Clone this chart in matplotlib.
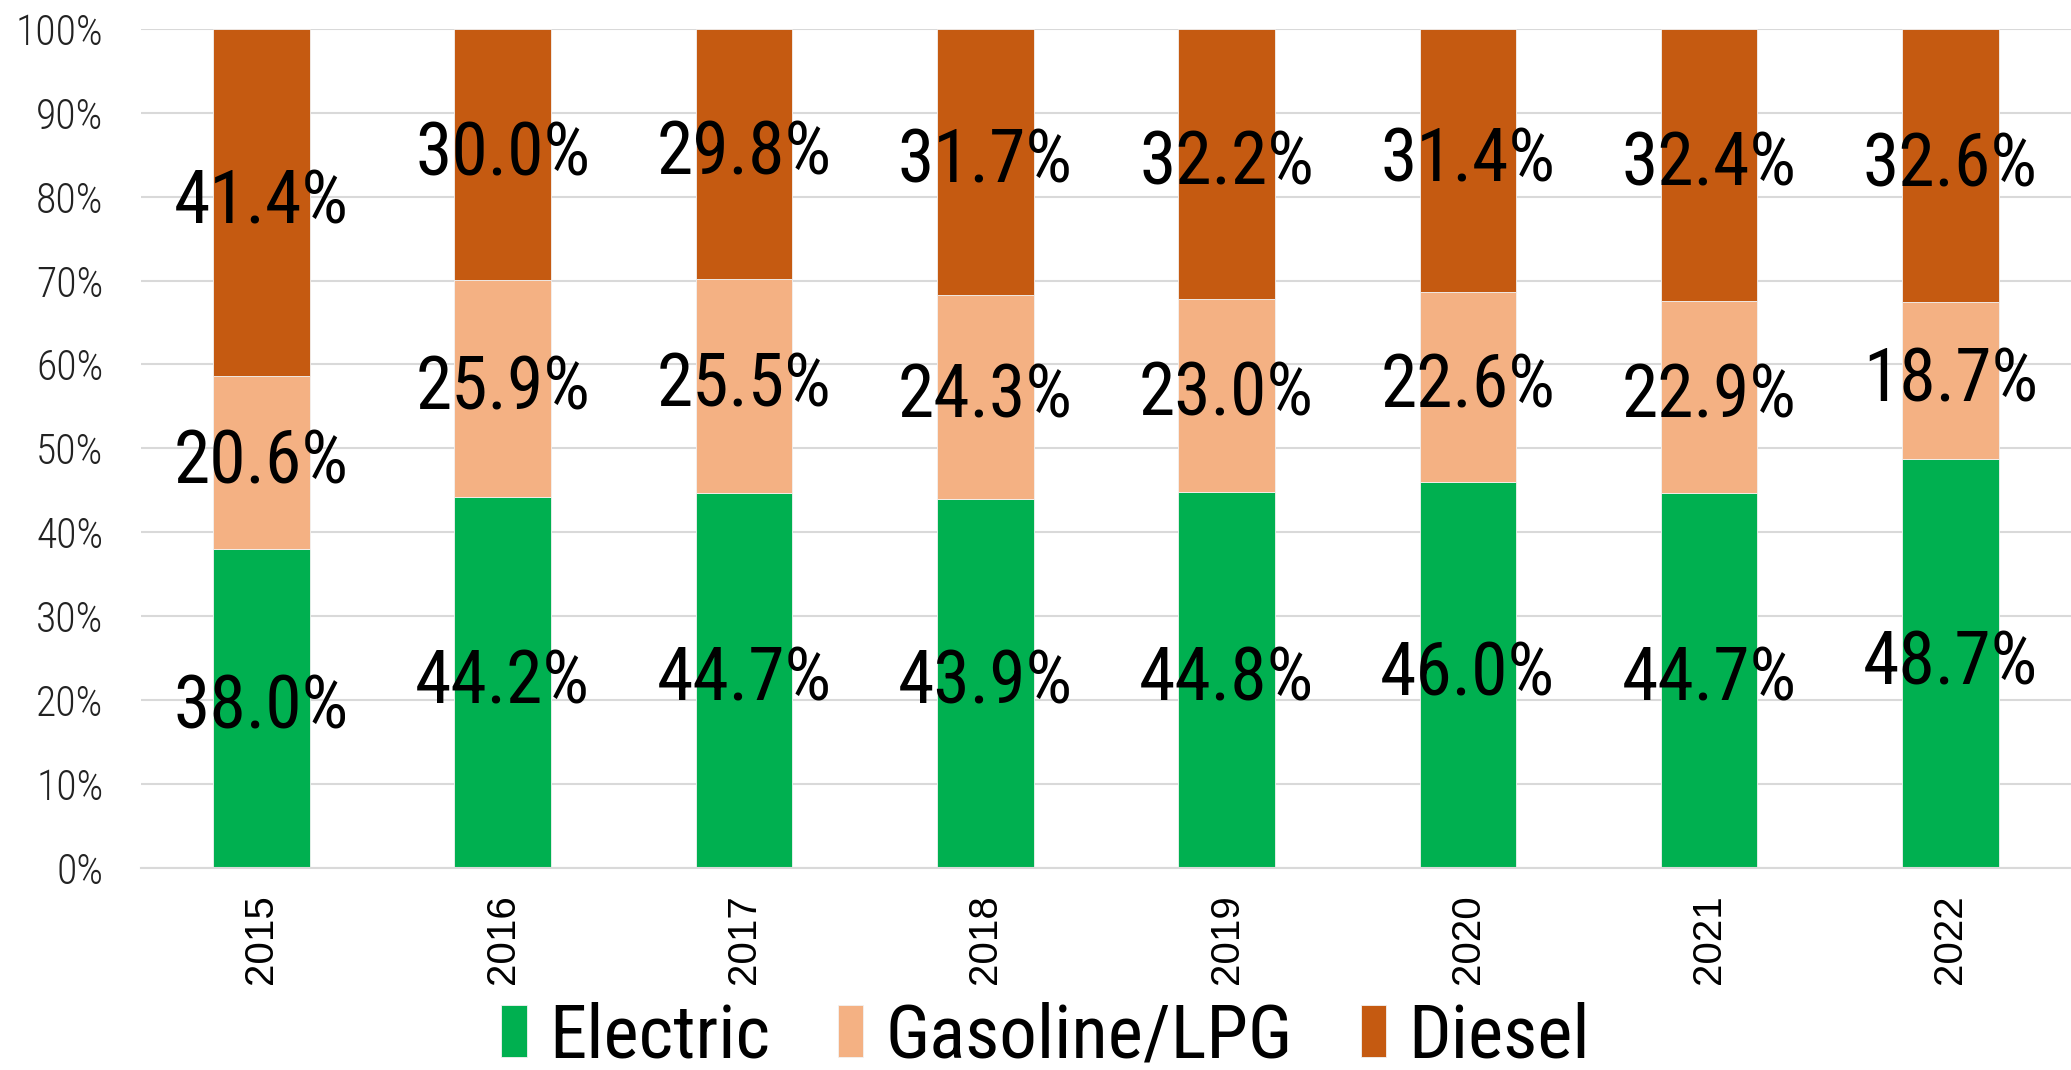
import matplotlib
matplotlib.use("Agg")
import matplotlib.pyplot as plt
import numpy as np

# chart data
years = ["2015", "2016", "2017", "2018", "2019", "2020", "2021", "2022"]
electric = [38.0, 44.2, 44.7, 43.9, 44.8, 46.0, 44.7, 48.7]
gasoline = [20.6, 25.9, 25.5, 24.3, 23.0, 22.6, 22.9, 18.7]
diesel = [41.4, 30.0, 29.8, 31.7, 32.2, 31.4, 32.4, 32.6]

series_names = ["Electric", "Gasoline/LPG", "Diesel"]
colors = ["#00B050", "#F4B183", "#C55A11"]

narrow = ["Roboto Condensed", "Liberation Sans Narrow", "Liberation Sans"]
plt.rcParams["font.family"] = ["Liberation Sans", "DejaVu Sans"]

fig = plt.figure(figsize=(20.71, 10.70), dpi=100)
ax = fig.add_axes([0.068, 0.189, 0.932, 0.784])

# 100% stacked: normalise each year to its own total
data = np.array([electric, gasoline, diesel])
shares = data / data.sum(axis=0) * 100
x = np.arange(len(years))
bottom = np.zeros(len(years))
for i in range(3):
    ax.bar(x, shares[i], 0.4, bottom=bottom, color=colors[i],
           edgecolor="#F2F2F2", linewidth=0.6, label=series_names[i], zorder=2)
    for j in range(len(years)):
        ax.text(x[j], bottom[j] + shares[i][j] / 2, f"{data[i][j]:.1f}%",
                ha="center", va="center", fontsize=53, family=narrow,
                fontstretch="condensed", color="black", zorder=3)
    bottom += shares[i]

ax.set_xlim(-0.5, len(years) - 0.5)
ax.set_ylim(0, 100)
ax.set_yticks(np.arange(0, 101, 10))
ax.set_yticklabels([f"{v}%" for v in range(0, 101, 10)], family=narrow,
                   fontstretch="condensed", fontweight="light")
ax.set_xticks(x)
ax.set_xticklabels(years, rotation=90)
ax.tick_params(axis="y", length=0, pad=27, labelsize=30, colors="#222222")
ax.tick_params(axis="x", length=0, pad=19, labelsize=29)
ax.grid(axis="y", color="#D9D9D9", linewidth=1.5, zorder=0)
ax.set_axisbelow(True)
for s in ["top", "right", "left"]:
    ax.spines[s].set_visible(False)
ax.spines["bottom"].set_color("#D9D9D9")
ax.spines["bottom"].set_linewidth(1.5)

fig.legend(loc="lower center", bbox_to_anchor=(0.505, -0.065), ncol=3,
           frameon=False,
           prop={"family": narrow, "size": 54, "stretch": "condensed"},
           handlelength=0.34, handleheight=0.68, handletextpad=0.3,
           columnspacing=0.9)

fig.savefig("out.png", dpi=100)
